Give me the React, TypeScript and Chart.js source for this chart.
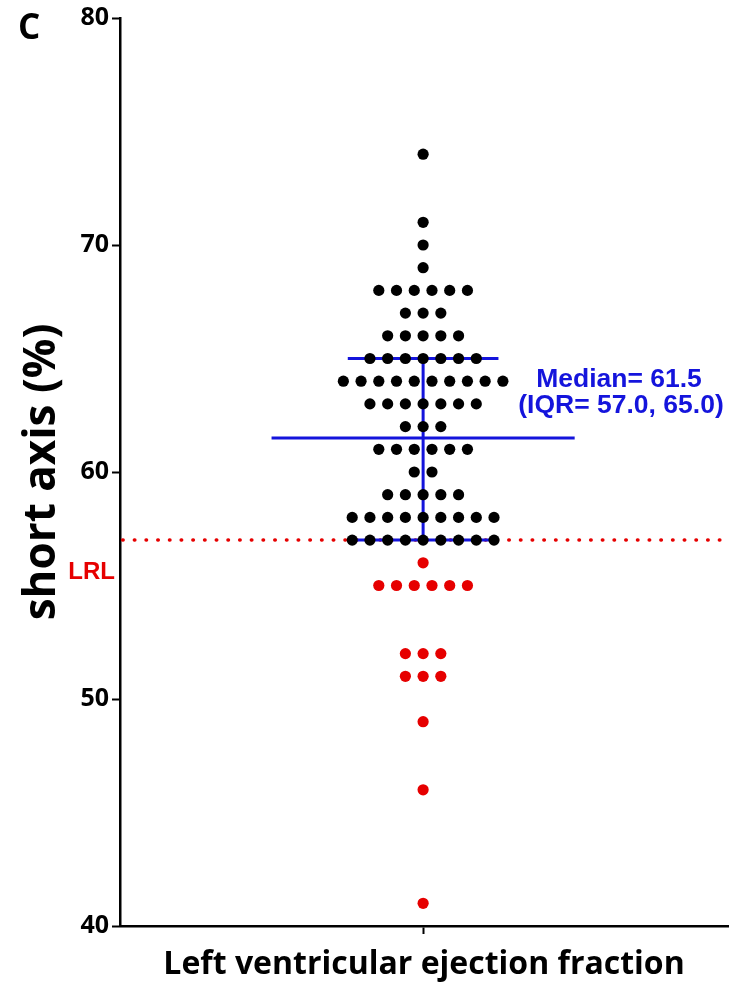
import React, { useEffect, useRef } from 'react';
import { Chart, registerables } from 'chart.js';

Chart.register(...registerables);

// ---- data ----
const aboveValues = [74, 71, 70, 69, 68, 67, 66, 65, 64, 63, 62, 61, 60, 59, 58, 57];
const aboveCounts = [1, 1, 1, 1, 6, 3, 5, 7, 10, 7, 3, 6, 2, 5, 9, 9];
const belowValues = [56, 55, 52, 51, 49, 46, 41];
const belowCounts = [1, 6, 3, 3, 1, 1, 1];
const medianValue = 61.5;
const iqrValues = [57.0, 65.0];
const lrlValue = 57;
const yTicks = [40, 50, 60, 70, 80];
const xTitle = 'Left ventricular ejection fraction';
const yTitle = 'short axis (%)';
const panelLabel = 'C';
const lrlLabel = 'LRL';
const statLines = ['Median= 61.5', '(IQR= 57.0, 65.0)'];

// ---- style constants ----
const X_MIN = -17.1;
const X_MAX = 17.2;
const MEDIAN_HALF = 8.55;
const IQR_HALF = 4.25;
const BLUE = '#1414dc';
const RED = '#e60000';

function swarm(values: number[], counts: number[]) {
  const pts: { x: number; y: number }[] = [];
  values.forEach((v, i) => {
    const n = counts[i];
    for (let k = 0; k < n; k++) pts.push({ x: k - (n - 1) / 2, y: v });
  });
  return pts;
}

const textPlugin = {
  id: 'textPlugin',
  afterDraw(chart: any) {
    const ctx = chart.ctx;
    ctx.save();
    ctx.fillStyle = '#000';
    ctx.font = 'bold 35px "Open Sans"';
    ctx.textAlign = 'left';
    ctx.textBaseline = 'alphabetic';
    ctx.fillText(panelLabel, 18, 39);

    ctx.fillStyle = RED;
    ctx.font = 'bold 24px "Liberation Sans", Arial';
    ctx.textAlign = 'right';
    ctx.fillText(lrlLabel, 115, 579);

    ctx.fillStyle = BLUE;
    ctx.font = 'bold 26.5px "Liberation Sans", Arial';
    ctx.textAlign = 'center';
    ctx.fillText(statLines[0], 619, 387);
    ctx.fillText(statLines[1], 621, 413);
    ctx.restore();
  },
};

export default function App() {
  const ref = useRef<HTMLCanvasElement | null>(null);

  useEffect(() => {
    if (!ref.current) return;
    const chart = new Chart(ref.current, {
      type: 'scatter',
      data: {
        datasets: [
          {
            label: 'above',
            data: swarm(aboveValues, aboveCounts),
            backgroundColor: '#000',
            borderWidth: 0,
            pointRadius: 5.6,
            order: 0,
          },
          {
            label: 'below',
            data: swarm(belowValues, belowCounts),
            backgroundColor: RED,
            borderWidth: 0,
            pointRadius: 5.6,
            order: 0,
          },
          {
            label: 'median',
            data: [
              { x: -MEDIAN_HALF, y: medianValue },
              { x: MEDIAN_HALF, y: medianValue },
            ],
            showLine: true,
            borderColor: BLUE,
            borderWidth: 3,
            pointRadius: 0,
            order: 1,
          },
          {
            label: 'iqrLow',
            data: [
              { x: -IQR_HALF, y: iqrValues[0] },
              { x: IQR_HALF, y: iqrValues[0] },
            ],
            showLine: true,
            borderColor: BLUE,
            borderWidth: 3,
            pointRadius: 0,
            order: 1,
          },
          {
            label: 'iqrHigh',
            data: [
              { x: -IQR_HALF, y: iqrValues[1] },
              { x: IQR_HALF, y: iqrValues[1] },
            ],
            showLine: true,
            borderColor: BLUE,
            borderWidth: 3,
            pointRadius: 0,
            order: 1,
          },
          {
            label: 'iqrVert',
            data: [
              { x: 0, y: iqrValues[0] },
              { x: 0, y: iqrValues[1] },
            ],
            showLine: true,
            borderColor: BLUE,
            borderWidth: 3,
            pointRadius: 0,
            order: 1,
          },
          {
            label: 'lrl',
            data: [
              { x: X_MIN + 0.15, y: lrlValue },
              { x: X_MAX, y: lrlValue },
            ],
            showLine: true,
            borderColor: RED,
            borderWidth: 3.5,
            borderDash: [0.5, 11.2],
            borderCapStyle: 'round',
            pointRadius: 0,
            order: 2,
          },
        ],
      },
      options: {
        animation: false,
        responsive: true,
        maintainAspectRatio: false,
        layout: {
          autoPadding: false,
          padding: { top: 15, right: 8, left: 0, bottom: 0 },
        },
        plugins: {
          legend: { display: false },
          tooltip: { enabled: false },
        },
        scales: {
          x: {
            type: 'linear',
            min: X_MIN,
            max: X_MAX,
            afterBuildTicks: (s: any) => {
              s.ticks = [{ value: 0 }];
            },
            afterFit: (s: any) => {
              s.height = 59;
            },
            ticks: { callback: () => '', padding: 0 },
            grid: {
              drawOnChartArea: false,
              drawTicks: true,
              tickLength: 8,
              tickWidth: 2,
              tickColor: '#000',
              color: '#000',
            },
            border: { display: true, color: '#000', width: 2.5 },
            title: {
              display: true,
              text: xTitle,
              color: '#000',
              font: { family: '"Open Sans"', weight: 'bold', size: 32 },
              padding: { top: 0, bottom: 1 },
            },
          },
          y: {
            type: 'linear',
            min: 40,
            max: 80,
            afterBuildTicks: (s: any) => {
              s.ticks = yTicks.map((v) => ({ value: v }));
            },
            afterFit: (s: any) => {
              s.width = 120;
            },
            ticks: {
              color: '#000',
              padding: 3,
              font: { family: '"Open Sans"', weight: 'bold', size: 25 },
            },
            grid: {
              drawOnChartArea: false,
              drawTicks: true,
              tickLength: 8,
              tickWidth: 2,
              tickColor: '#000',
              color: '#000',
            },
            border: { display: true, color: '#000', width: 2.5 },
            title: {
              display: true,
              text: yTitle,
              color: '#000',
              font: { family: '"Open Sans"', weight: 'bold', size: 44 },
              padding: { top: 16, bottom: 0 },
            },
          },
        },
      },
      plugins: [textPlugin],
    } as any);
    return () => chart.destroy();
  }, []);

  return (
    <div style={{ position: 'fixed', left: 0, top: 0, width: 736, height: 985, background: '#fff' }}>
      <canvas ref={ref} />
    </div>
  );
}
